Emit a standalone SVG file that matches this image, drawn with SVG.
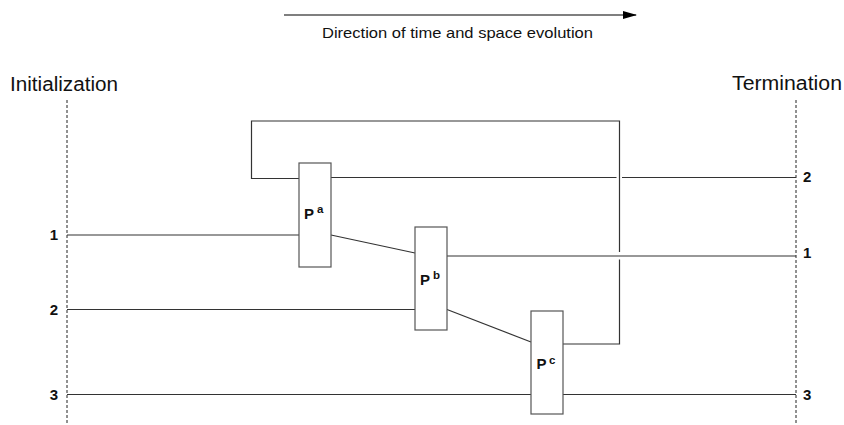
<svg xmlns="http://www.w3.org/2000/svg" width="844" height="425" viewBox="0 0 844 425">
<defs>
<marker id="arr" markerWidth="14" markerHeight="8" refX="13" refY="4" orient="auto" markerUnits="userSpaceOnUse">
<path d="M0,0 L14,4 L0,8 Z" fill="#000"/>
</marker>
<style>
text{font-family:"Liberation Sans",Arial,sans-serif;fill:#111}
.lbl{font-size:15px;font-weight:bold}
.sup{font-size:11.5px;font-weight:bold}
.title{font-size:20px}
.box{fill:#fff;stroke:#555;stroke-width:1.2}
.wire{fill:none;stroke:#333;stroke-width:1.2}
.dash{stroke:#222;stroke-width:1;stroke-dasharray:3,2}
</style>
</defs>
<rect width="844" height="425" fill="#fff"/>
<g id="header">
<line x1="284" y1="15" x2="636" y2="15" stroke="#000" stroke-width="1.2" marker-end="url(#arr)"/>
<text x="322" y="38" font-size="15" textLength="271" lengthAdjust="spacingAndGlyphs">Direction of time and space evolution</text>
</g>
<g id="init">
<text class="title" x="10" y="91" textLength="108" lengthAdjust="spacingAndGlyphs">Initialization</text>
<line class="dash" x1="67" y1="100" x2="67" y2="425"/>
<text class="lbl" x="58" y="240" text-anchor="end">1</text>
<text class="lbl" x="58" y="315" text-anchor="end">2</text>
<text class="lbl" x="58" y="400" text-anchor="end">3</text>
</g>
<g id="term">
<text class="title" x="732" y="90" textLength="110" lengthAdjust="spacingAndGlyphs">Termination</text>
<line class="dash" x1="796" y1="100" x2="796" y2="425"/>
<text class="lbl" x="803" y="182">2</text>
<text class="lbl" x="803" y="258">1</text>
<text class="lbl" x="803" y="400">3</text>
</g>
<g id="connectors">
<line class="wire" x1="67" y1="235" x2="299" y2="235"/>
<line class="wire" x1="67" y1="309.5" x2="415" y2="309.5"/>
<line class="wire" x1="67" y1="394.5" x2="531" y2="394.5"/>
<line class="wire" x1="563" y1="394.5" x2="796" y2="394.5"/>
<line class="wire" x1="331" y1="235" x2="415" y2="253"/>
<line class="wire" x1="447" y1="309.5" x2="531" y2="342"/>
<line class="wire" x1="331" y1="177.5" x2="616.5" y2="177.5"/>
<line class="wire" x1="622" y1="177.5" x2="796" y2="177.5"/>
<line class="wire" x1="447" y1="256" x2="796" y2="256"/>
<polyline class="wire" points="563,344 619.5,344 619.5,259.5"/>
<polyline class="wire" points="619.5,252 619.5,121 251.5,121 251.5,178.5 299,178.5"/>
</g>
<g id="Pa">
<rect class="box" x="299" y="163" width="32" height="104"/>
<text class="lbl" x="304" y="219">P</text><text class="sup" x="317" y="212.5">a</text>
</g>
<g id="Pb">
<rect class="box" x="415" y="227" width="32" height="103"/>
<text class="lbl" x="420" y="285">P</text><text class="sup" x="433" y="278.5">b</text>
</g>
<g id="Pc">
<rect class="box" x="531" y="311" width="32" height="103"/>
<text class="lbl" x="536.5" y="369">P</text><text class="sup" x="549" y="364">c</text>
</g>
</svg>
